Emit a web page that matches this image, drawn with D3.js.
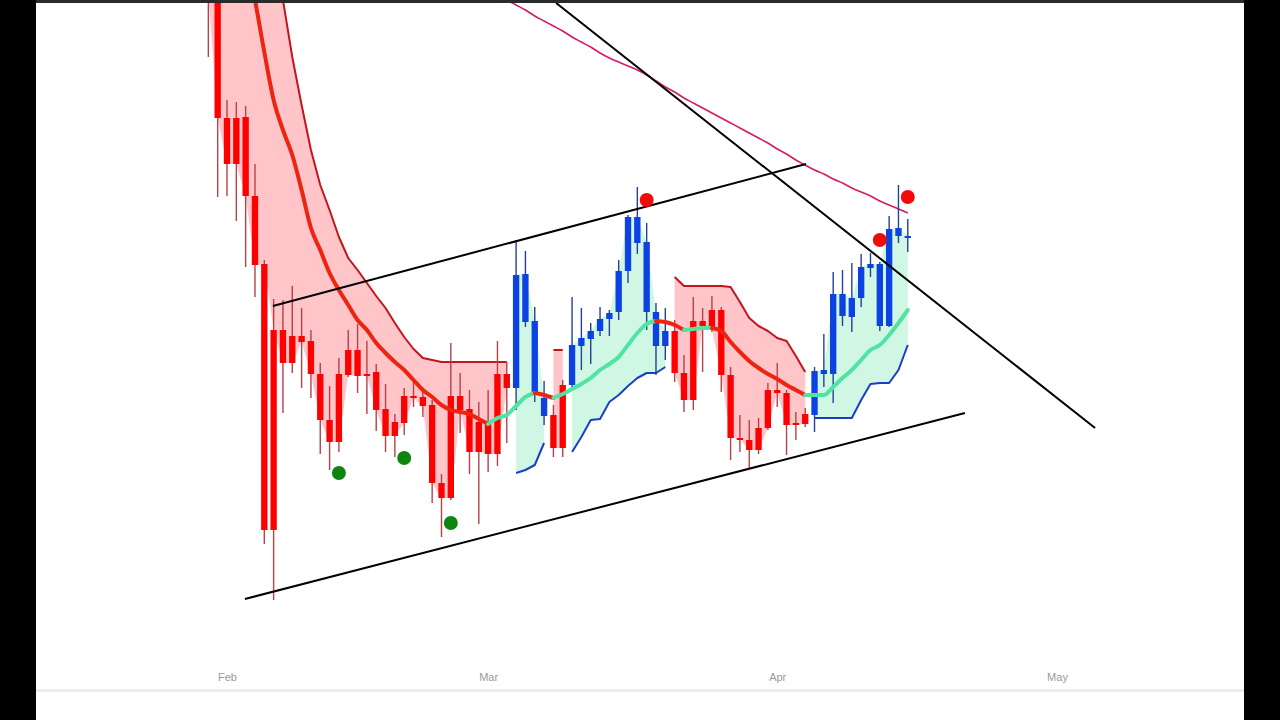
<!DOCTYPE html>
<html><head><meta charset="utf-8">
<script src="https://cdn.jsdelivr.net/npm/d3@7"></script>
<style>html,body{margin:0;padding:0;background:#000;}svg{display:block;}</style>
</head><body><svg id="c" width="1280" height="720"></svg>
<script>
// ---- data (daily candles starting 2023-01-30) ----
const firstCandle = new Date(2023, 0, 30);
const opens  = [74.0,72.0,58.2,58.2,58.3,50.4,17.0,17.0,37.0,36.4,36.4,35.9,32.6,28.0,32.6,35.0,35.0,32.6,32.8,29.1,27.8,30.4,30.4,30.3,29.5,21.7,30.4,30.4,29.1,27.8,27.6,32.6,32.6,
  31.2,37.8,30.8,28.4,28.5,31.5,31.5,35.4,36.1,36.9,38.1,38.8,42.9,45.7,38.8,35.4,35.4,
  36.9,32.7,37.9,37.9,39.0,39.0,32.5,26.2,26.0,27.2,31.0,31.0,30.7,27.7,28.6,
  28.5,32.6,32.6,38.4,38.3,40.2,43.2,37.4,37.4,46.4,46.2];
const highs  = [78.0,74.0,60.0,59.8,59.4,53.6,44.0,40.1,40.0,41.4,39.2,37.0,33.7,31.4,34.2,37.0,37.6,35.9,33.6,31.6,28.6,31.2,31.8,31.0,30.0,22.6,35.7,32.7,31.0,29.8,31.0,35.9,33.8,
  46.0,44.9,39.3,31.9,29.5,32.0,40.3,39.2,37.7,39.3,39.0,44.0,48.5,51.3,47.7,39.7,39.2,
  38.0,34.5,40.3,39.2,40.4,39.3,33.3,28.5,28.0,28.2,31.7,33.7,31.0,28.8,29.2,
  33.3,36.6,42.8,43.0,43.7,44.6,44.7,43.8,48.4,51.5,48.1];
const lows   = [64.3,50.3,50.4,47.9,43.3,40.3,15.6,10.0,28.7,32.7,31.2,30.2,24.6,23.0,24.8,32.3,30.7,28.6,26.9,24.8,24.3,26.5,29.3,28.3,19.7,16.3,20.0,26.7,22.6,17.6,22.8,23.4,25.7,
  29.0,37.3,29.8,27.5,24.3,24.3,31.2,33.0,33.6,36.4,36.4,38.0,41.7,44.6,37.0,32.5,34.0,
  31.8,28.8,29.0,32.8,36.8,30.8,24.0,24.8,23.2,24.6,27.0,29.3,24.5,26.0,27.3,
  26.8,31.3,29.7,37.4,36.8,39.3,42.3,36.9,37.3,45.7,44.8];
const closes = [70.5,58.2,53.6,53.6,50.4,43.5,43.6,37.0,33.7,33.7,35.8,32.6,28.0,25.8,25.8,32.5,32.4,32.4,29.0,26.4,26.4,27.7,30.2,29.4,21.7,20.2,20.2,29.0,24.8,24.8,24.6,24.6,31.2,
  42.5,42.6,37.9,30.2,25.2,25.2,35.5,36.2,36.9,38.1,38.7,42.9,48.3,48.3,45.8,38.8,36.9,
  32.7,30.0,30.0,37.4,37.1,32.5,26.2,26.1,25.0,25.0,27.2,30.7,27.5,27.5,27.6,
  32.9,33.0,40.6,40.6,40.2,43.3,43.6,43.6,47.1,47.2,46.4];
// trailing stop bands (null = other side active)
const upperBand = [102,98,94,90,86,82,78,74,70.0,64.3,59.5,55.0,51.5,49.0,46.3,44.2,43.0,41.7,40.4,39.2,37.7,36.3,35.1,34.2,34.0,33.8,33.8,33.8,33.8,33.8,33.8,33.8,33.8,
  null,null,null,null,35.0,35.0,null,null,null,null,null,null,null,null,null,null,null,
  42.3,41.4,41.4,41.4,41.4,41.4,41.3,39.8,38.2,37.4,36.9,36.2,35.9,34.4,32.8,
  null,null,null,null,null,null,null,null,null,null,null];
const lowerBand = [null,null,null,null,null,null,null,null,null,null,null,null,null,null,null,null,null,null,null,null,null,null,null,null,null,null,null,null,null,null,null,null,null,
  22.7,23.0,23.5,25.7,null,null,24.8,26.3,28.0,28.1,29.8,30.5,31.4,32.2,32.7,32.7,33.3,
  null,null,null,null,null,null,null,null,null,null,null,null,null,null,null,
  28.2,28.2,28.2,28.2,28.2,30.0,31.6,31.7,31.7,33.0,35.5];
const baseline = [88.0,85.0,82.0,78.5,74.5,70.0,64.8,60.0,57.0,54.5,51.0,47.2,45.0,42.7,41.0,39.5,38.0,37.0,35.7,34.7,33.8,33.0,32.0,31.0,30.3,29.5,29.0,28.8,28.6,28.1,27.6,28.2,28.5,
  29.4,30.3,30.7,30.5,30.2,30.6,31.1,31.6,32.2,33.0,33.6,34.3,35.5,36.7,37.6,37.9,37.8,
  37.5,37.0,37.1,37.2,37.2,36.9,35.8,34.8,33.9,33.2,32.6,32.1,31.5,31.0,30.5,
  30.5,30.5,31.3,32.2,33.0,34.0,35.0,35.5,36.5,37.7,39.0];
// long moving average, starting 2023-03-02
const maStart = new Date(2023, 2, 2);
const maValues = [70.6,70.0,69.5,69.0,68.4,67.9,67.4,66.9,66.3,65.8,65.3,64.7,64.2,63.8,63.4,63.0,62.5,61.9,61.3,60.8,60.2,59.7,59.2,58.7,58.2,57.7,57.2,56.7,56.2,55.7,55.1,54.6,54.0,53.5,53.0,52.6,52.1,51.7,51.2,50.8,50.4,49.9,49.5,49.1,48.7];
// signal markers
const buySignals  = [["2023-02-13",22.7],["2023-02-20",24.2],["2023-02-25",17.7]];
const sellSignals = [["2023-03-18",50.0],["2023-04-12",46.0],["2023-04-15",50.3]];
// hand-drawn trend lines [start, price, end, price]
const trendLines = [
  ["2023-02-05T22:00",39.4,"2023-04-04T02:00",53.6],
  ["2023-02-02T22:00",10.1,"2023-04-21T03:00",28.7],
  ["2023-03-08T07:00",69.7,"2023-05-05T02:00",27.2]
];
const monthTicks = ["2023-02-01","2023-03-01","2023-04-01","2023-05-01"];

// ---- drawing ----
const W = 1280, H = 720;
const parse = s => new Date(s.length > 10 ? s : s + "T00:00");
const n = opens.length;
const dates = opens.map((_, i) => d3.timeDay.offset(firstCandle, i));
const x = d3.scaleTime().domain([parse(monthTicks[0]), parse(monthTicks[3])]).range([227, 1057]);
const y = d3.scaleLinear().domain([0, 70]).range([700, 0]);

const svg = d3.select("#c");
svg.append("rect").attr("width", W).attr("height", H).attr("fill", "#000");
svg.append("rect").attr("x", 36).attr("width", 1208).attr("height", H).attr("fill", "#fff");
svg.append("rect").attr("x", 36).attr("y", 0).attr("width", 1208).attr("height", 3).attr("fill", "#2a2a2a");
svg.append("rect").attr("x", 36).attr("y", 689).attr("width", 1208).attr("height", 3).attr("fill", "#ececec");

svg.append("defs").append("clipPath").attr("id", "plot")
  .append("rect").attr("x", 36).attr("y", 3).attr("width", 1208).attr("height", 686);
const g = svg.append("g").attr("clip-path", "url(#plot)");

const trend = upperBand.map(v => v != null ? "down" : "up");
const runs = [];
let s0 = 0;
for (let i = 1; i <= n; i++) {
  if (i === n || trend[i] !== trend[s0]) { runs.push({t: trend[s0], from: s0, to: i - 1}); s0 = i; }
}
const cx = i => x(dates[i]);

// band fills (band to close)
runs.forEach(r => {
  const idx = d3.range(r.from, r.to + 1);
  const band = r.t === "down" ? upperBand : lowerBand;
  const area = d3.area().x(cx).y0(i => y(band[i])).y1(i => y(closes[i]));
  g.append("path").attr("d", area(idx))
    .attr("fill", r.t === "down" ? "#ffc5c9" : "#cff7e3");
});
// band lines
runs.forEach(r => {
  const idx = d3.range(r.from, r.to + 1);
  const band = r.t === "down" ? upperBand : lowerBand;
  g.append("path").attr("d", d3.line().x(cx).y(i => y(band[i]))(idx))
    .attr("fill", "none").attr("stroke", r.t === "down" ? "#c4141c" : "#1a3fc4")
    .attr("stroke-width", 2).attr("stroke-linejoin", "round");
});

// long MA
g.append("path")
  .attr("d", d3.line().x((v, k) => x(d3.timeDay.offset(maStart, k))).y(v => y(v)).curve(d3.curveMonotoneX)(maValues))
  .attr("fill", "none").attr("stroke", "#d51a68").attr("stroke-width", 1.6);

// candles
const dayW = x(dates[1]) - x(dates[0]);
const bodyW = dayW * 0.68;
const cg = g.append("g");
d3.range(n).forEach(i => {
  const up = trend[i] === "up";
  cg.append("line").attr("x1", cx(i)).attr("x2", cx(i))
    .attr("y1", y(highs[i])).attr("y2", y(lows[i]))
    .attr("stroke", up ? "#23409a" : "#b84046").attr("stroke-width", 1.4);
  const top = y(Math.max(opens[i], closes[i])), bot = y(Math.min(opens[i], closes[i]));
  cg.append("rect").attr("x", cx(i) - bodyW / 2).attr("width", bodyW)
    .attr("y", top).attr("height", Math.max(2, bot - top))
    .attr("fill", up ? "#0d42e2" : "#ff0000");
});

// baseline (colored by slope)
const segColor = i => baseline[i + 1] >= baseline[i] ? "#50e4a2" : "#ee2410";
let r0 = 0;
for (let i = 1; i <= n - 1; i++) {
  if (i === n - 1 || segColor(i) !== segColor(r0)) {
    const idx = d3.range(r0, i + 1);
    g.append("path").attr("d", d3.line().x(cx).y(k => y(baseline[k])).curve(d3.curveMonotoneX)(idx))
      .attr("fill", "none").attr("stroke", segColor(r0)).attr("stroke-width", 4)
      .attr("stroke-linecap", "round");
    r0 = i;
  }
}

// trend lines
trendLines.forEach(t => {
  g.append("line").attr("x1", x(parse(t[0]))).attr("y1", y(t[1]))
    .attr("x2", x(parse(t[2]))).attr("y2", y(t[3]))
    .attr("stroke", "#000").attr("stroke-width", 2);
});

// signals
buySignals.forEach(s => g.append("circle").attr("cx", x(parse(s[0]))).attr("cy", y(s[1])).attr("r", 7).attr("fill", "#0c860f"));
sellSignals.forEach(s => g.append("circle").attr("cx", x(parse(s[0]))).attr("cy", y(s[1])).attr("r", 7).attr("fill", "#f00a0a"));

// axis
const ax = svg.append("g").attr("transform", "translate(0,668)")
  .call(d3.axisBottom(x).tickValues(monthTicks.map(parse)).tickFormat(d3.timeFormat("%b")).tickSize(0).tickPadding(5));
ax.select(".domain").remove();
ax.selectAll("text").attr("fill", "#9a9a9a").style("font-family", "'Liberation Sans Narrow','Liberation Sans',sans-serif").style("font-size", "11px");
</script>
</body></html>
